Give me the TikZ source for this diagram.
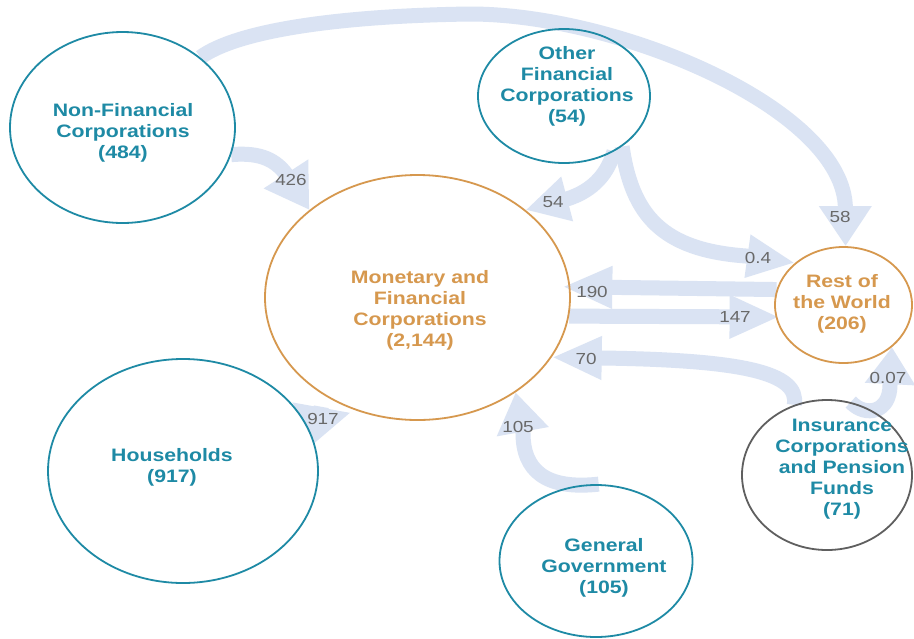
\documentclass[tikz,border=0pt]{standalone}
\usepackage{fontspec}
\usetikzlibrary{shapes.geometric,arrows.meta}
\newfontfamily\nodefont{Liberation Sans}[FakeStretch=1.18]
\definecolor{tealc}{RGB}{30,138,165}
\definecolor{orangec}{RGB}{214,152,78}
\definecolor{grayc}{RGB}{95,95,95}
\definecolor{flowc}{RGB}{218,227,243}
\definecolor{lblc}{RGB}{105,105,105}
\pgfdeclarelayer{bg}
\pgfsetlayers{bg,main}
\tikzset{
  sector/.style={ellipse, draw=#1, line width=1.8pt, inner sep=0pt},
  sectortext/.style={font=\nodefont\bfseries\fontsize{18}{21}\selectfont, align=center, text=#1},
  flow/.style={draw=flowc, line width=15pt, line cap=butt, line join=round},
  flowlbl/.style={font=\nodefont\fontsize{16}{18}\selectfont, text=lblc, inner sep=0pt},
  hd/.style 2 args={-{Triangle[width=#1pt,length=#2pt]}},
}
\begin{document}
\begin{tikzpicture}[x=1pt,y=-1pt]
\useasboundingbox (0,0) rectangle (914,638);

% sectors
\node[sector=tealc, minimum width=225pt, minimum height=191pt] (nfc) at (122.5,127.5) {};
\node[sector=orangec, minimum width=305pt, minimum height=245pt] (mfc) at (417.5,297.5) {};
\node[sector=tealc, minimum width=172pt, minimum height=134pt] (ofc) at (564,96) {};
\node[sector=orangec, minimum width=137pt, minimum height=116pt] (row) at (843.5,305) {};
\node[sector=tealc, minimum width=270pt, minimum height=224pt] (hh) at (183,471) {};
\node[sector=grayc, minimum width=170pt, minimum height=150pt] (icpf) at (827,475) {};
\node[sector=tealc, minimum width=193pt, minimum height=152pt] (gg) at (596,561) {};

% sector texts
\node[sectortext=tealc] (nfct) at (123,133) {Non-Financial\\Corporations\\(484)};
\node[sectortext=orangec] (mfct) at (420,310) {Monetary and\\Financial\\Corporations\\(2,144)};
\node[sectortext=tealc] (ofct) at (567,86) {Other\\Financial\\Corporations\\(54)};
\node[sectortext=orangec] (rowt) at (842,304) {Rest of\\the World\\(206)};
\node[sectortext=tealc] (hht) at (172,467) {Households\\(917)};
\node[sectortext=tealc] (icpft) at (842,469) {Insurance\\Corporations\\and Pension\\Funds\\(71)};
\node[sectortext=tealc] (ggt) at (604,568) {General\\Government\\(105)};

% flows
\begin{pgfonlayer}{bg}
\fill[white] (0,0) rectangle (914,638);
\draw[flow, hd={50}{40}] (nfc.42) .. controls (235,32) and (330,16) .. (470,14)
  .. controls (620,14) and (845,110) .. (row.88);
\draw[flow, hd={50}{43}] (nfc.-14) .. controls (262,152) and (276,161) .. (286,174) -- (mfc.141);
\draw[flow, hd={43}{43}] (ofc.-48) .. controls (608,172) and (595,190) .. (567,199) -- (mfc.39);
\draw[flow, hd={40}{48}] (ofc.-41) .. controls (632,215) and (662,250) .. (746,256) -- (row.139);
\draw[flow, hd={39}{50}, shorten >=-8pt] (row.167) -- (mfc.4);
\draw[flow, hd={40}{50}, shorten >=-4pt] (mfc.-7) -- (row.190);
\draw[flow, hd={40}{50}] (icpf.115) .. controls (800,372) and (740,360) .. (602,358) -- (mfc.-24);
\draw[flow, hd={48}{37}] (icpf.72) .. controls (866,418) and (890,412) .. (890,385) -- (row.-41);
\draw[flow, hd={50}{40}] (gg.88) .. controls (545,490) and (523,470) .. (523,433) -- (mfc.-44);
\draw[flow, hd={56}{36}, shorten <=12pt] (mfc.226) -- (hh.12);
\end{pgfonlayer}

% flow labels
\node[flowlbl] (l426) at (291,180) {426};
\node[flowlbl] (l54) at (553,202) {54};
\node[flowlbl] (l58) at (840,217) {58};
\node[flowlbl] (l04) at (758,258) {0.4};
\node[flowlbl] (l190) at (592,292) {190};
\node[flowlbl] (l147) at (735,317) {147};
\node[flowlbl] (l70) at (586,359) {70};
\node[flowlbl] (l007) at (888,378) {0.07};
\node[flowlbl] (l105) at (518,427) {105};
\node[flowlbl] (l917) at (323,419) {917};
\end{tikzpicture}
\end{document}
